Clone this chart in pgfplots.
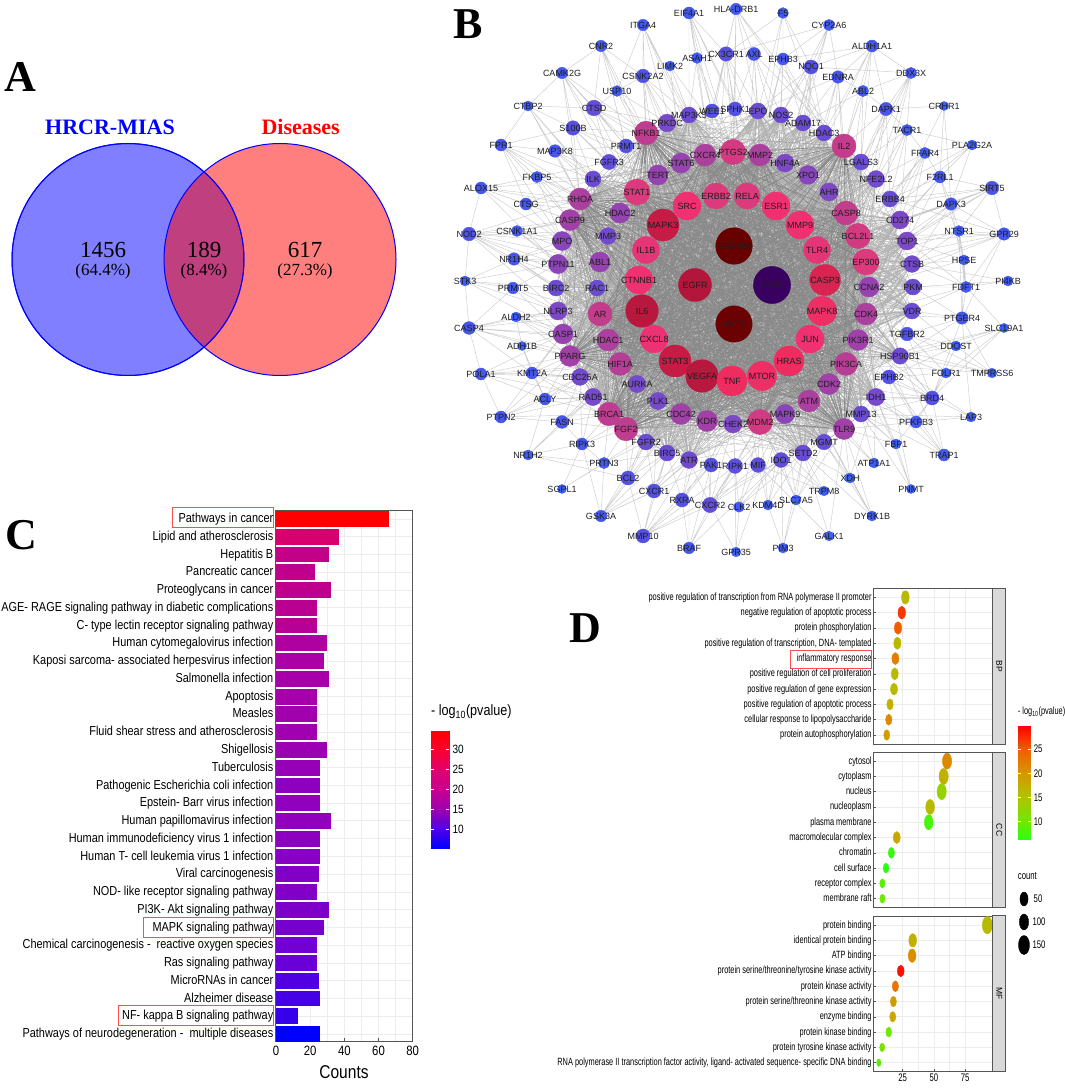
\documentclass[border=0pt]{standalone}
\usepackage{fontspec}
\setmainfont{Liberation Serif}
\newfontfamily\netf{Liberation Sans}
\newfontfamily\cf[FakeStretch=0.84]{Liberation Sans}
\newfontfamily\df[FakeStretch=0.705]{Liberation Sans}
\usepackage{pgfplots}
\usepackage{pgfplotstable}
\pgfplotsset{compat=1.18}
\newcommand\fs[1]{\fontsize{#1}{#1}\selectfont}
\definecolor{frame}{RGB}{85,85,85}
\definecolor{lightgrid}{RGB}{236,236,236}
\definecolor{strip}{RGB}{217,217,217}

% network nodes, positions in image pixels: first 49 = hubs, next 43 = middle ring, next 80 or so = outer
\pgfplotstableread{
name x y r
GAPDH 734 246 18.3
AKT1 734 324 18.2
TP53 772 285 18.6
EGFR 695 285 16.5
IL6 642 311 16.3
MAPK3 663 225 16
STAT3 675 361 16
VEGFA 702 376 16.3
CASP3 825 280 15.5
HRAS 789 361 15
TNF 732 381 15
MTOR 762 376 14.6
MAPK8 822 311 14.6
JUN 810 339 14
SRC 687 206 14
ESR1 776 206 14
MMP9 800 225 14
CTNNB1 639 280 14
IL1B 646 250 13.5
CXCL8 654 339 13.8
TLR4 817 250 13.4
ERBB2 716 196 13
RELA 747 196 13
EP300 866 262 13
STAT1 637 192 13
BCL2L1 858 236 12.6
PTGS2 733 152 12.6
MDM2 760 422 12.5
CASP8 846 213 12
NFKB1 646 133 11.8
AR 600 314 12
IL2 844 146 12
FGF2 626 429 11.8
BRCA1 609 414 11.8
CDK4 866 314 11
HIF1A 620 364 11.4
PIK3CA 846 364 11.5
RHOA 580 199 11
CXCR4 705 155 11
MMP2 760 155 11
ATM 809 401 11
HDAC1 608 340 11
PPARG 570 356 10.5
CASP9 570 220 10.5
CDC42 681 414 10.5
KDR 707 421 10.5
CDK2 829 384 10.5
TLR9 844 429 10.5
PIK3R1 858 340 10.4
CCNA2 869 287 10
TERT 658 175 10
ABL1 600 262 10
STAT6 681 163 10
HDAC2 620 213 10
CASP1 563 334 10
MAPK9 785 414 9.6
PTPN11 558 264 9.6
MPO 562 241 9.5
XPO1 808 175 9.4
CHEK2 733 424 9
HNF4A 785 163 9
AHR 829 192 9
TOP1 907 241 9
CD274 900 220 9
NLRP3 558 311 9
PRKDC 667 123 8.8
HSP90B1 900 356 8.2
IDH1 876 397 8.6
CTSB 912 264 8.4
AURKA 637 384 8.6
PLK1 658 401 8.6
RAD51 593 397 8.6
CDC25A 580 377 8.4
MMP3 608 236 8.4
NFE2L2 876 179 8.4
ATR 689 460 8.4
BIRC5 667 453 8
FGFR2 646 442 8
MMP13 861 414 8
LGALS3 861 162 8
HDAC3 824 133 8
ADAM17 803 123 8
NOS2 781 115 8
MAP3K5 689 115 8
EPO 758 111 8
VDR 912 311 8
PKM 913 287 8
ILK 593 179 8
RAC1 597 288 8
BIRC2 556 288 8
MGMT 824 442 7.8
SETD2 803 453 8
CTSD 594 108 7.8
S100B 573 128 7.2
CX3CR1 726 54 7.2
CSNK2A2 643 76 6.8
WEE1 712 111 7
SPHK1 735 109 7
FGFR3 609 162 7.6
PRMT1 626 146 7
ERBB4 890 199 8
TGFBR2 907 334 6.8
EPHB2 889 377 7
IDO1 781 460 7.5
MIF 758 465 7.4
RIPK1 735 466 7.4
PAK1 711 465 7
CXCR2 710 505 7.6
BCL2 628 478 7
RXRA 682 500 7
CXCR1 654 491 7
DAPK1 886 109 6.6
MAP3K8 555 151 6.3
FKBP5 537 177 5.6
CTSG 526 204 6
CSNK1A1 517 231 5.5
NR1H4 514 259 6.2
PRMT5 513 288 5.8
ALDH2 516 317 5
KMT2A 532 373 6
ACLY 545 399 6
FASN 562 422 6.4
RIPK3 582 444 6
PRTN3 604 463 5.6
EDNRA 838 77 6.2
ABL2 863 91 5.6
TACR1 907 130 5.6
FFAR4 925 153 5.6
F2RL1 940 177 6
DAPK3 951 204 6.2
NTSR1 959 231 5.4
HPSE 964 260 5
FDFT1 966 287 5.6
PTGER4 962 318 6.2
DDOST 956 346 5
FOLR1 946 373 5
BRD4 932 398 7
PFKFB3 916 422 6
FBP1 896 444 5
ATP1A1 874 463 5
NQO1 811 67 7
EPHB3 783 59 6
AXL 754 54 6.5
ASAH1 697 58 5.4
LIMK2 670 66 5
USP10 617 91 5.4
EIF4A1 689 13 6
HLA-DRB1 736 9 5.7
ITGA4 643 25 5.7
CNR2 601 46 5.7
CAMK2G 562 73 5.7
CTBP2 528 106 5
FPR1 501 145 6
ALOX15 481 188 6
STK3 465 281 5
NOD2 469 234 6.8
CASP4 469 328 6.4
ADH1B 522 346 4.5
POLA1 481 374 6
PTPN2 501 417 6
NR1H2 528 455 5
SGPL1 562 489 4.5
GSK3A 601 516 5.8
MMP10 643 536 7
BRAF 689 548 5.8
GPR35 736 552 4.8
CLK2 739 507 5.2
PIM3 783 548 5
GALK1 829 536 4.8
DYRK1B 872 516 5
KDM4D 768 505 5
SLC7A5 796 500 5
TRPM8 824 491 4.8
XDH 850 478 5
PNMT 911 489 4.5
TRAP1 944 455 6
LAP3 971 417 5
TMPRSS6 992 373 4.8
SLC19A1 1004 328 4.6
PI4KB 1008 281 5
GPR29 1004 234 6.2
SIRT5 992 188 6.8
PLA2G2A 972 145 5
CRHR1 944 106 4.5
DDX3X 911 73 5.6
ALDH1A1 872 46 6
CYP2A6 829 25 5.6
F5 783 13 5.4
}\nettable

% coordinates of each node by name and by row
\pgfplotstablegetrowsof{\nettable}
\pgfmathtruncatemacro\lastrow{\pgfplotsretval-1}
\foreach \i in {0,...,\lastrow}{%
  \pgfplotstablegetelem{\i}{name}\of\nettable\let\nn\pgfplotsretval
  \pgfplotstablegetelem{\i}{x}\of\nettable\let\nx\pgfplotsretval
  \pgfplotstablegetelem{\i}{y}\of\nettable\let\ny\pgfplotsretval
  \expandafter\xdef\csname Pn\nn\endcsname{(\nx,\ny)}%
  \expandafter\xdef\csname PI\i\endcsname{(\nx,\ny)}%
}
% hairball edges: hubs all linked, middle ring linked to all hubs
\gdef\coreE{}\gdef\midE{}\gdef\outE{}
\foreach \i in {0,...,48}{\foreach \j in {\i,...,48}{%
  \ifnum\i<\j\relax\xdef\coreE{\coreE\csname PI\j\endcsname\csname PI\i\endcsname}\fi}}
\foreach \i in {49,...,91}{\foreach \j in {0,...,48}{%
  \xdef\midE{\midE\csname PI\j\endcsname\csname PI\i\endcsname}}}
% outer ring, links read by eye
\foreach \a/\bl in {%
ITGA4/{CSNK2A2,MAP3K5,NFKB1,STAT6,USP10,CXCR4,ERBB2},
EIF4A1/{ASAH1,MAP3K5,PTGS2,MMP2,SPHK1,CX3CR1,WEE1},
HLA-DRB1/{CX3CR1,AXL,SPHK1,PTGS2,IL2,HDAC3,WEE1,EPO},
F5/{EPHB3,NQO1,EPO,HDAC3,MMP2,CX3CR1},
CYP2A6/{NQO1,EDNRA,ADAM17,MMP2,HNF4A,EPHB3},
ALDH1A1/{EDNRA,ABL2,DAPK1,HDAC3,IL2,LGALS3,XPO1,NQO1},
DDX3X/{ABL2,DAPK1,TACR1,LGALS3,NFE2L2,CASP8,ALDH1A1,EP300},
CRHR1/{DAPK1,F2RL1,DAPK3},
PLA2G2A/{FFAR4,F2RL1,TACR1,BCL2L1,CASP8},
SIRT5/{F2RL1,DAPK3,NTSR1,TOP1,CD274,EP300,GPR29,BCL2L1,CASP8,ERBB4},
GPR29/{DAPK3,NTSR1,PTGER4,TOP1,CTSB,CCNA2,BCL2L1,EP300,FDFT1},
PI4KB/{PKM,CTSB,FDFT1},
SLC19A1/{DDOST,FOLR1,HSP90B1,BRD4,PIK3CA},
TMPRSS6/{TGFBR2,DDOST,HSP90B1,PTGER4,PIK3R1},
LAP3/{BRD4,PFKFB3,PTGER4,MMP13},
TRAP1/{BRD4,PFKFB3,IDH1,HSP90B1,EPHB2},
PNMT/{FBP1,MMP13,IDH1},
XDH/{TLR9,MGMT,SETD2,IDH1,ATM},
DYRK1B/{XDH,SETD2,MGMT,TLR9},
GALK1/{SETD2,MIF},
TRPM8/{SETD2,MGMT,MDM2,IDO1},
PIM3/{SETD2,SLC7A5,IDO1,KDM4D},
SLC7A5/{SETD2,IDO1,MAPK9,MGMT,TLR9,MDM2},
KDM4D/{IDO1,SETD2,MIF,MDM2,MAPK9},
GPR35/{CLK2,CXCR2,RIPK1},
CLK2/{CXCR2,RIPK1,SETD2,MDM2,MIF,IDO1},
BRAF/{RXRA,CXCR2,ATR,PAK1,RIPK1,IDO1},
MMP10/{CXCR1,BCL2,RXRA,CXCR2,BIRC5,ATR,RIPK1,PAK1},
GSK3A/{BCL2,RIPK3,PRTN3,CXCR1,ATR,BIRC5,FGFR2,CDC42},
SGPL1/{RIPK3,PRTN3},
NR1H2/{FASN,RIPK3,ACLY,BCL2,RAD51},
PTPN2/{ACLY,POLA1,RAD51,BRCA1,FASN,CASP1,PPARG,CDC25A},
POLA1/{KMT2A,CDC25A,RAD51,CASP4,PPARG,CASP1,ACLY,HIF1A},
CASP4/{ALDH2,NLRP3,CASP1,HDAC1,PPARG,STK3,PRMT5,POLA1,AR,KMT2A},
ADH1B/{ALDH2,PPARG,ACLY,CASP1},
STK3/{NOD2,BIRC2,NR1H4,CASP4,PTPN11,PRMT5,NLRP3},
NOD2/{CSNK1A1,MPO,PTPN11,NR1H4,BIRC2,RAC1,RHOA,ALOX15,MMP3,ABL1,CASP9},
ALOX15/{FKBP5,CTSG,ILK,RHOA,PTPN11,HDAC2,CASP9,MPO},
FPR1/{MAP3K8,FKBP5,CASP9,RHOA,CTBP2,S100B,ILK,CTSG,HDAC2},
CTBP2/{CAMK2G,CTSD,MAP3K8,S100B,FPR1,ILK,RHOA},
CAMK2G/{CNR2,CTSD,S100B,FGFR3,PRMT1,NFKB1,STAT1},
CNR2/{USP10,CSNK2A2,CTSD,NFKB1,PRMT1,TERT},
USP10/{CSNK2A2,CTSD,NFKB1,TERT,PRKDC},
CSNK2A2/{MAP3K5,PRKDC,NFKB1,STAT6,CXCR4,TERT,SRC},
LIMK2/{MAP3K5,STAT6,CXCR4,PTGS2},
ASAH1/{WEE1,MAP3K5,PTGS2,ERBB2},
CX3CR1/{WEE1,SPHK1,EPO,PTGS2,CXCR4,MMP2,RELA},
AXL/{SPHK1,EPO,NOS2,MMP2,IL2,HNF4A,RELA},
EPHB3/{NOS2,ADAM17,MMP2,HDAC3,ESR1},
NQO1/{NOS2,ADAM17,HDAC3,HNF4A,XPO1,MMP9,EPO},
EDNRA/{ABL2,HDAC3,IL2,XPO1,AHR,CASP8,ADAM17},
ABL2/{DAPK1,IL2,LGALS3,AHR,CASP8},
DAPK1/{TACR1,IL2,LGALS3,NFE2L2,ERBB4,CASP8,BCL2L1},
TACR1/{FFAR4,LGALS3,NFE2L2,ERBB4,CD274,BCL2L1},
FFAR4/{F2RL1,NFE2L2,ERBB4,CD274,EP300,TOP1},
F2RL1/{DAPK3,CD274,ERBB4,TOP1,HPSE,EP300},
DAPK3/{NTSR1,CD274,TOP1,CTSB,BCL2L1,EP300,FDFT1},
NTSR1/{TOP1,HPSE,CTSB,EP300,PTGER4},
HPSE/{CTSB,CCNA2,FDFT1,TOP1},
FDFT1/{CTSB,PKM,VDR,CCNA2,PTGER4,CDK4},
PTGER4/{VDR,PKM,TGFBR2,CDK4,HSP90B1,BRD4},
DDOST/{VDR,TGFBR2,HSP90B1,EPHB2,BRD4},
FOLR1/{TGFBR2,HSP90B1,EPHB2,BRD4,PIK3R1},
BRD4/{HSP90B1,EPHB2,IDH1,CDK2,PIK3CA,MMP13,TGFBR2,PIK3R1,ATM,CDK4},
PFKFB3/{IDH1,EPHB2,MMP13,TLR9,CDK2,BRD4},
FBP1/{IDH1,PIK3CA,CDK2,MMP13,TLR9},
ATP1A1/{MMP13,ATM,TLR9,IDH1},
ACLY/{RAD51,BRCA1,CDC25A,KMT2A,PPARG,HIF1A},
FASN/{RAD51,BRCA1,FGF2,HIF1A,RIPK3,CDC25A},
RIPK3/{BRCA1,FGF2,RAD51,PLK1,PRTN3},
PRTN3/{FGF2,BRCA1,FGFR2,BIRC5},
KMT2A/{CDC25A,RAD51,PPARG,CASP1,HIF1A,AURKA},
ALDH2/{NLRP3,CASP1,PPARG,HDAC1,AR},
PRMT5/{BIRC2,NLRP3,PTPN11,RAC1,CASP1,AR},
NR1H4/{PTPN11,ABL1,BIRC2,MPO,MMP3,RAC1},
CSNK1A1/{MPO,PTPN11,ABL1,MMP3,CASP9,HDAC2},
CTSG/{CASP9,RHOA,ILK,HDAC2,MPO},
FKBP5/{ILK,RHOA,CASP9,MMP3,FGFR3,HDAC2},
MAP3K8/{ILK,FGFR3,RHOA,PRMT1,STAT1},
S100B/{FGFR3,ILK,NFKB1,PRMT1,STAT1,RHOA,TERT},
CTSD/{PRMT1,NFKB1,FGFR3,PRKDC,STAT1,TERT,STAT6},
BCL2/{FGF2,FGFR2,BIRC5,CDC42,PLK1},
CXCR1/{FGFR2,BIRC5,ATR,KDR,CDC42,CHEK2},
RXRA/{BIRC5,ATR,PAK1,KDR,CHEK2},
CXCR2/{ATR,PAK1,RIPK1,MIF,KDR,CHEK2,MDM2,IDO1,MAPK9},
RIPK1/{CHEK2,KDR,MDM2,TNF},
PAK1/{KDR,CHEK2,CDC42,ATR},
MIF/{CHEK2,MDM2,MAPK9,MTOR,AKT1},
IDO1/{MDM2,MAPK9,ATM,TNF},
WEE1/{PTGS2,CXCR4,RELA,STAT6},
SPHK1/{PTGS2,MMP2,RELA,ERBB2},
FGFR3/{TERT,STAT1,STAT6,HDAC2,SRC},
PRMT1/{TERT,STAT1,STAT6,CXCR4,NFKB1},
ERBB4/{CASP8,BCL2L1,EP300,CD274,AHR},
TGFBR2/{PIK3R1,CDK4,PIK3CA,JUN},
EPHB2/{PIK3CA,CDK2,PIK3R1,ATM}}{\foreach \b in \bl {%
  \ifcsname Pn\b\endcsname
    \xdef\outE{\outE\csname Pn\a\endcsname\csname Pn\b\endcsname}%
  \fi}}

\pgfplotsset{
  colormap={net}{
    rgb255(4.5pt)=(60,95,247) rgb255(6.5pt)=(72,85,235) rgb255(7.5pt)=(96,78,218)
    rgb255(9pt)=(125,72,198) rgb255(10pt)=(150,66,176) rgb255(11pt)=(172,64,158)
    rgb255(12pt)=(196,60,140) rgb255(13pt)=(220,58,124) rgb255(14pt)=(240,48,112)
    rgb255(15pt)=(238,44,96) rgb255(16pt)=(196,28,68) rgb255(17pt)=(160,16,48)
    rgb255(18.3pt)=(104,0,0) rgb255(18.4pt)=(96,0,0) rgb255(18.5pt)=(58,0,96) rgb255(18.6pt)=(58,0,96)},
  colormap={dmap}{
    rgb255(6pt)=(40,255,20) rgb255(10pt)=(112,232,0) rgb255(15pt)=(176,195,0)
    rgb255(20pt)=(216,148,0) rgb255(25pt)=(240,96,0) rgb255(30pt)=(255,0,0)},
  colormap={cmap}{
    rgb255(5pt)=(0,0,255) rgb255(10pt)=(80,0,230) rgb255(15pt)=(160,0,176)
    rgb255(20pt)=(200,0,144) rgb255(25pt)=(224,0,112) rgb255(30pt)=(248,0,48) rgb255(35pt)=(255,0,0)},
  pxaxis/.style={scale only axis, width=1065pt, height=1090pt, xmin=0, xmax=1065, ymin=0, ymax=1090,
    y dir=reverse, hide axis, clip=false, at={(0pt,0pt)}, anchor=south west},
  bub/.style={scatter, only marks, mark=*, point meta=\thisrow{p},
    scatter/use mapped color={draw=mapped color, fill=mapped color},
    visualization depends on={\thisrow{s}\as\rr},
    scatter/@pre marker code/.append style={/tikz/mark size=\rr, /tikz/xscale=0.58}},
  dfacet/.style={scale only axis, width=119.4pt, xmin=1.4, xmax=97.1, ymin=0.41, ymax=10.59,
    at={(873.3pt,#1)}, anchor=south west, height=155.6pt, clip=false,
    xtick={25,50,75}, minor x tick num=1, ytick={1,...,10}, xmajorgrids, xminorgrids, ymajorgrids,
    major grid style={lightgrid, line width=0.7pt}, minor grid style={lightgrid, line width=0.5pt},
    colormap name=dmap, point meta min=6.2, point meta max=29.8,
    axis line style={frame, line width=0.9pt}, tick style={frame, line width=0.6pt}, major tick length=2.5pt,
    minor tick length=0pt, xtick pos=bottom, ytick pos=left,
    yticklabel style={font=\df\fs{10.5}, inner sep=1.5pt, text height=8pt, text depth=2.2pt},
    xticklabel style={font=\df\fs{11}, inner sep=2pt},
    /pgf/number format/assume math mode=true},
  cbar/.style={scale only axis, xmin=0, xmax=1, enlargelimits=false, axis on top, anchor=south west,
    xtick=\empty, axis line style={draw=none}, tick align=inside, ytick pos=both, yticklabel pos=right,
    major tick length=3pt, ytick style={white, line width=0.6pt},
    /pgf/number format/assume math mode=true},
}
\newcommand\plotE[2]{\expandafter\plotEi\expandafter{#2}{#1}}
\newcommand\plotEi[2]{\addplot[#2] coordinates {#1};}
\newcommand\bbar[4]{\addplot[xbar, bar shift=0pt, bar width=15.8pt, draw=none,
  fill={rgb,255:red,#3;green,0;blue,#4}] coordinates {(#1,#2)};}

\begin{document}
\begin{tikzpicture}[x=1pt,y=1pt]
\path[use as bounding box] (0,0) rectangle (1065,1090);

% B: edges
\begin{axis}[pxaxis]
\plotE{draw=black!20, line width=0.45pt, line join=round, no markers}{\outE}
\end{axis}
\begin{axis}[pxaxis]
\plotE{draw=black!30, line width=0.25pt, line join=round, no markers}{\midE}
\end{axis}
\begin{axis}[pxaxis]
\plotE{draw=black!46, line width=0.3pt, line join=round, no markers}{\coreE}
\end{axis}

% B: nodes, A: venn
\begin{axis}[pxaxis, colormap name=net, point meta min=4.5, point meta max=18.6]
\addplot[scatter, only marks, mark=*, point meta=\thisrow{r},
  scatter/use mapped color={draw=mapped color, fill=mapped color},
  visualization depends on={\thisrow{r}\as\rr},
  scatter/@pre marker code/.append style={/tikz/mark size=\rr}]
  table[x=x, y=y] {\nettable};
\addplot[only marks, mark=none, point meta=explicit symbolic, nodes near coords,
  every node near coord/.style={anchor=center, inner sep=0pt, font=\netf\fs{9}, text=black!88}]
  table[x=x, y=y, meta=name] {\nettable};
\addplot[only marks, mark=*, mark size=116, mark options={fill=blue, fill opacity=0.5, draw=blue, line width=1pt}]
  coordinates {(128,259.5)};
\addplot[only marks, mark=*, mark size=116, mark options={fill=red, fill opacity=0.5, draw=blue, line width=1pt}]
  coordinates {(280,259.5)};
\addplot[only marks, mark=*, mark size=116, mark options={fill opacity=0, draw=blue, line width=1pt}]
  coordinates {(128,259.5)};
\end{axis}

% C: bars
\begin{axis}[scale only axis, width=136.7pt, height=530pt, at={(276pt,49pt)}, anchor=south west,
  xmin=0, xmax=80, ymin=0.61, ymax=30.45, xtick={0,20,40,60,80}, minor x tick num=1,
  ytick={1,...,30}, xmajorgrids, xminorgrids, ymajorgrids,
  major grid style={lightgrid, line width=0.9pt}, minor grid style={lightgrid, line width=0.6pt},
  axis line style={frame, line width=1pt}, tick style={frame, line width=0.7pt}, major tick length=3pt,
  minor tick length=0pt, xtick pos=bottom, ytick pos=left,
  yticklabel style={font=\cf\fs{13}, inner sep=2.5pt, text height=10pt, text depth=2.8pt},
  xticklabel style={font=\cf\fs{13.5}, inner sep=5pt},
  /pgf/number format/assume math mode=true,
  yticklabels={Pathways of neurodegeneration - \ multiple diseases, NF- kappa B signaling pathway, Alzheimer disease,
    MicroRNAs in cancer, Ras signaling pathway, Chemical carcinogenesis - \ reactive oxygen species,
    MAPK signaling pathway, PI3K- Akt signaling pathway, NOD- like receptor signaling pathway, Viral carcinogenesis,
    Human T- cell leukemia virus 1 infection, Human immunodeficiency virus 1 infection, Human papillomavirus infection,
    Epstein- Barr virus infection, Pathogenic Escherichia coli infection, Tuberculosis, Shigellosis,
    Fluid shear stress and atherosclerosis, Measles, Apoptosis, Salmonella infection,
    Kaposi sarcoma- associated herpesvirus infection, Human cytomegalovirus infection,
    C- type lectin receptor signaling pathway, AGE- RAGE signaling pathway in diabetic complications,
    Proteoglycans in cancer, Pancreatic cancer, Hepatitis B, Lipid and atherosclerosis, Pathways in cancer}]
\bbar{66}{30}{255}{0}
\bbar{37}{29}{215}{110}
\bbar{31}{28}{195}{135}
\bbar{23}{27}{190}{140}
\bbar{32}{26}{190}{140}
\bbar{24}{25}{185}{145}
\bbar{24}{24}{182}{150}
\bbar{30}{23}{175}{160}
\bbar{28}{22}{170}{165}
\bbar{31}{21}{168}{168}
\bbar{24}{20}{165}{170}
\bbar{24}{19}{162}{172}
\bbar{24}{18}{160}{175}
\bbar{30}{17}{155}{178}
\bbar{26}{16}{150}{182}
\bbar{26}{15}{140}{190}
\bbar{26}{14}{145}{188}
\bbar{32}{13}{145}{188}
\bbar{26}{12}{140}{192}
\bbar{26}{11}{135}{195}
\bbar{25}{10}{130}{198}
\bbar{24}{9}{130}{198}
\bbar{31}{8}{125}{200}
\bbar{28}{7}{118}{205}
\bbar{24}{6}{115}{210}
\bbar{24}{5}{105}{215}
\bbar{25}{4}{80}{225}
\bbar{26}{3}{70}{230}
\bbar{13}{2}{55}{235}
\bbar{26}{1}{0}{255}
\end{axis}

% C: colour bar
\begin{axis}[cbar, width=18.6pt, height=117.6pt, at={(430.7pt,241.7pt)}, colormap name=cmap,
  ymin=5.1, ymax=34.8, ytick={10,15,20,25,30}, point meta min=5.1, point meta max=34.8,
  yticklabel style={font=\cf\fs{12}, inner sep=3pt}]
\addplot[patch, patch type=rectangle, shader=interp, point meta=y] coordinates {
  (0,5.1)(1,5.1)(1,10)(0,10) (0,10)(1,10)(1,15)(0,15) (0,15)(1,15)(1,20)(0,20)
  (0,20)(1,20)(1,25)(0,25) (0,25)(1,25)(1,30)(0,30) (0,30)(1,30)(1,34.8)(0,34.8)};
\end{axis}

% D: facets
\begin{axis}[dfacet=346pt, xticklabels={}, xtick style={draw=none},
  yticklabels={protein autophosphorylation, cellular response to lipopolysaccharide, positive regulation of apoptotic process,
    positive regulation of gene expression, positive regulation of cell proliferation, inflammatory response,
    {positive regulation of transcription, DNA- templated}, protein phosphorylation, negative regulation of apoptotic process,
    positive regulation of transcription from RNA polymerase II promoter}]
\addplot[bub] table[row sep=\\] {x y p s\\
27.1 10 16 6.7\\ 24.2 9 27 6.5\\ 21.2 8 25 6.3\\ 20.7 7 16 6.2\\ 19.1 6 22 6\\
18.6 5 16 6\\ 18 4 16 6\\ 14.8 3 17 5.6\\ 13.8 2 21 5.5\\ 12.2 1 19 5.3\\};
\end{axis}
\begin{axis}[dfacet=182.3pt, xticklabels={}, xtick style={draw=none},
  yticklabels={membrane raft, receptor complex, cell surface, chromatin, macromolecular complex, plasma membrane,
    nucleoplasm, nucleus, cytoplasm, cytosol}]
\addplot[bub] table[row sep=\\] {x y p s\\
60.5 10 21 8\\ 57.8 9 17 8\\ 56.2 8 13 8\\ 46.9 7 16 7.5\\ 45.8 6 8 7.5\\
20.2 5 18 6\\ 15.9 4 7 5.5\\ 11.6 3 6.5 5\\ 8.7 2 9 4.5\\ 8.7 1 10 4.5\\};
\end{axis}
\begin{axis}[dfacet=18.3pt,
  yticklabels={{RNA polymerase II transcription factor activity, ligand- activated sequence- specific DNA binding},
    protein tyrosine kinase activity, protein kinase binding, enzyme binding, protein serine/threonine kinase activity,
    protein kinase activity, protein serine/threonine/tyrosine kinase activity, ATP binding, identical protein binding, protein binding}]
\addplot[bub] table[row sep=\\] {x y p s\\
92.8 10 16 8.7\\ 33 9 17 6.7\\ 32.5 8 20.5 6.7\\ 23.4 7 29 5.8\\ 19.1 6 23 5.5\\
17.5 5 19 5.3\\ 17 4 18 5.3\\ 13.8 3 10 5\\ 8.5 2 11 4.3\\ 5.8 1 9 3.8\\};
\end{axis}

% D: colour bar
\begin{axis}[cbar, width=13pt, height=114pt, at={(1017.7pt,250pt)}, colormap name=dmap,
  ymin=6.2, ymax=29.8, ytick={10,15,20,25}, point meta min=6.2, point meta max=29.8,
  yticklabel style={font=\df\fs{11}, inner sep=3pt}]
\addplot[patch, patch type=rectangle, shader=interp, point meta=y] coordinates {
  (0,6.2)(1,6.2)(1,10)(0,10) (0,10)(1,10)(1,15)(0,15) (0,15)(1,15)(1,20)(0,20)
  (0,20)(1,20)(1,25)(0,25) (0,25)(1,25)(1,29.8)(0,29.8)};
\end{axis}

% text, boxes, strips, size legend
\begin{axis}[pxaxis]
\addplot[only marks, mark=*, black, mark size=7, mark options={xscale=0.58}] coordinates {(1024,899)};
\addplot[only marks, mark=*, black, mark size=8, mark options={xscale=0.58}] coordinates {(1024,922)};
\addplot[only marks, mark=*, black, mark size=9.5, mark options={xscale=0.58}] coordinates {(1024,945)};

\node[font=\bfseries\fs{44}] at (20.5,77) {A};
\node[font=\bfseries\fs{44}] at (468,24) {B};
\node[font=\bfseries\fs{44}] at (21,535) {C};
\node[font=\bfseries\fs{44}] at (585,628) {D};
\node[font=\bfseries\fs{22}, text=blue] at (110,127) {HRCR-MIAS};
\node[font=\bfseries\fs{22}, text=red] at (300.7,127) {Diseases};
\node[font=\fs{23}] at (103,250) {1456};
\node[font=\fs{17}] at (103,271) {(64.4\%)};
\node[font=\fs{23}] at (204,250) {189};
\node[font=\fs{17}] at (204,271) {(8.4\%)};
\node[font=\fs{23}] at (305,250) {617};
\node[font=\fs{17}] at (305,271) {(27.3\%)};

\node[font=\cf\fs{18.5}] at (344,1072) {Counts};
\node[font=\cf\fs{15}, anchor=west, inner sep=0pt] at (431,712) {- log\textsubscript{10}(pvalue)};
\node[font=\df\fs{10.5}, anchor=west, inner sep=0pt] at (1017.7,711.7) {- log\textsubscript{10}(pvalue)};
\node[font=\df\fs{11}, anchor=west, inner sep=0pt] at (1017.7,875.7) {count};
\node[font=\df\fs{11}] at (1038,899) {50};
\node[font=\df\fs{11}] at (1039,922) {100};
\node[font=\df\fs{11}] at (1039,945) {150};

\draw[draw=red!70!white, line width=0.8pt] (172.7,507.3) rectangle (273.3,527.3);
\draw[draw=red!70!white, line width=0.8pt] (143,917) rectangle (273.3,937);
\draw[draw=red!70!white, line width=0.8pt] (118,1005.7) rectangle (273.3,1025.7);
\draw[draw=red!70!white, line width=0.8pt] (790.7,650.7) rectangle (871,668);

\filldraw[fill=strip, draw=frame, line width=0.9pt] (992.7,588.3) rectangle (1005.7,744);
\filldraw[fill=strip, draw=frame, line width=0.9pt] (992.7,752.3) rectangle (1005.7,907.7);
\filldraw[fill=strip, draw=frame, line width=0.9pt] (992.7,915.7) rectangle (1005.7,1071.7);
\node[font=\netf\fs{8.5}, rotate=-90] at (999.2,666) {BP};
\node[font=\netf\fs{8.5}, rotate=-90] at (999.2,830) {CC};
\node[font=\netf\fs{8.5}, rotate=-90] at (999.2,993.7) {MF};
\end{axis}
\end{tikzpicture}
\end{document}
